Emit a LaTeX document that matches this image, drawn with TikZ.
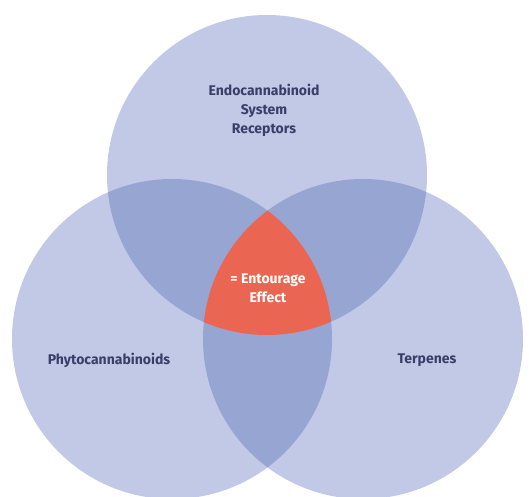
\documentclass[tikz,border=0pt]{standalone}
\usepackage{fontspec}
\setmainfont{Fira Sans}
\usepackage{tikz}
\definecolor{ringpale}{RGB}{193,201,230}
\definecolor{ringdark}{RGB}{151,165,210}
\definecolor{entred}{RGB}{234,102,82}
\definecolor{inkblue}{RGB}{56,62,104}
\tikzset{
  ring/.style={circle, minimum size=320pt, inner sep=0pt, fill=ringpale},
  tag/.style={text=inkblue, align=center, font=\fontsize{14}{19}\selectfont\bfseries}
}
\begin{document}
\begin{tikzpicture}[x=1pt,y=-1pt]
\useasboundingbox (0,0) rectangle (529,496);
\node [ring] (e) at (267,175) {};
\node [ring] (p) at (172,339) {};
\node [ring] (t) at (363,339) {};
\begin{scope}
	\clip (e.center) circle (160pt);
	\fill [ringdark] (p.center) circle (160pt);
	\fill [ringdark] (t.center) circle (160pt);
\end{scope}
\begin{scope}
	\clip (p.center) circle (160pt);
	\fill [ringdark] (t.center) circle (160pt);
	\clip (t.center) circle (160pt);
	\fill [entred] (e.center) circle (160pt);
\end{scope}
\node [tag] (ecs) at (264,110) {Endocannabinoid\\System\\Receptors};
\node [tag, text=white] (ent) at (268,288) {= Entourage\\Effect};
\node [tag] (phy) at (109,360) {Phytocannabinoids};
\node [tag] (ter) at (427,360) {Terpenes};
\end{tikzpicture}
\end{document}
